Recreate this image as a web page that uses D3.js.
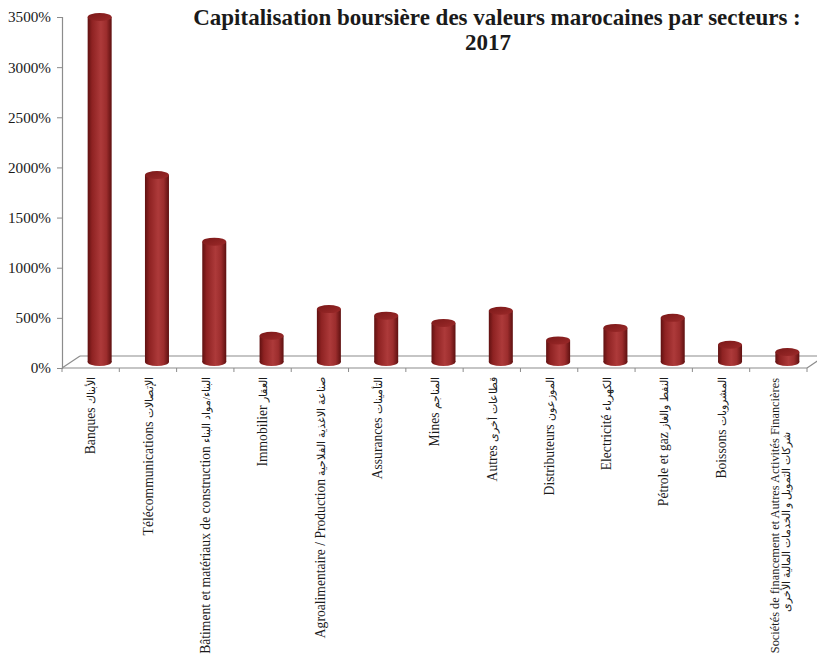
<!DOCTYPE html>
<html>
<head>
<meta charset="utf-8">
<script src="https://cdn.jsdelivr.net/npm/d3@7"></script>
<style>
  html, body { margin: 0; padding: 0; background: #ffffff; }
  svg { display: block; }
</style>
</head>
<body>
<svg id="chart" width="817" height="669"></svg>
<script>
// Sector labels (French + Arabic), one entry per column
const sectorsFr = [
  "Banques", "Télécommunications", "Bâtiment et matériaux de construction",
  "Immobilier", "Agroalimentaire / Production", "Assurances", "Mines",
  "Autres", "Distributeurs", "Electricité", "Pétrole et gaz", "Boissons",
  "Sociétés de financement et Autres Activités Financières"
];
const sectorsAr = [
  "الأبناك", "الإتصالات", "البناء/مواد البناء", "العقار",
  "صناعة الاغذية الفلاحية", "التأمينات", "المناجم", "قطاعات أخرى",
  "الموزعون", "الكهرباء", "النفط والغاز", "المشروبات",
  "شركات التمويل و الخدمات المالية الأخرى"
];
// Market capitalisation share per sector (%)
const capValues = [3440, 1865, 1200, 262, 528, 462, 390, 511, 215, 340, 440, 172, 100];
const yTicks = [0, 500, 1000, 1500, 2000, 2500, 3000, 3500];
const titleLines = ["Capitalisation boursière des valeurs marocaines par secteurs :", "2017"];

const svg = d3.select("#chart");
const serif = "'Liberation Serif', 'Times New Roman', serif";

// oblique 3D offset: back wall is shifted right/up from the front edge
const depthX = 18, depthY = -12;
const x0 = 62, x1 = 807, yBottom = 368, yTop = 17;

const x = d3.scaleBand().domain(d3.range(capValues.length)).range([x0, x1]).padding(0);
const y = d3.scaleLinear().domain([0, 3500]).range([yBottom, yTop]);

// gradient for the cylinder bodies
const defs = svg.append("defs");
const grad = defs.append("linearGradient").attr("id", "cyl").attr("x1", "0").attr("x2", "1").attr("y1", "0").attr("y2", "0");
[["0%", "#601111"], ["18%", "#8e2222"], ["55%", "#ad3a3a"], ["78%", "#9c2d2d"], ["100%", "#5e1010"]]
  .forEach(([o, c]) => grad.append("stop").attr("offset", o).attr("stop-color", c));
const gradTop = defs.append("linearGradient").attr("id", "cyltop").attr("x1", "0").attr("x2", "1").attr("y1", "0").attr("y2", "1");
[["0%", "#7a1818"], ["100%", "#9c2a2a"]]
  .forEach(([o, c]) => gradTop.append("stop").attr("offset", o).attr("stop-color", c));

// floor of the 3D plot area
const floor = svg.append("g").attr("stroke", "#8c8c8c").attr("stroke-width", 1.2).attr("fill", "none");
floor.append("line").attr("x1", x0 + depthX).attr("y1", y(0) + depthY).attr("x2", x1 + depthX).attr("y2", y(0) + depthY);
floor.append("line").attr("x1", x0).attr("y1", y(0)).attr("x2", x1).attr("y2", y(0));
floor.append("line").attr("x1", x0).attr("y1", y(0)).attr("x2", x0 + depthX).attr("y2", y(0) + depthY);
floor.append("line").attr("x1", x1).attr("y1", y(0)).attr("x2", x1 + depthX).attr("y2", y(0) + depthY);

// value axis on the front-left edge
const yAxis = svg.append("g")
  .attr("transform", `translate(${x0},0)`)
  .call(d3.axisLeft(y).tickValues(yTicks).tickSize(5).tickPadding(6).tickFormat(d => d + "%"));
yAxis.select(".domain").attr("stroke", "#8c8c8c").attr("stroke-width", 1.2);
yAxis.selectAll(".tick line").attr("stroke", "#8c8c8c");
yAxis.selectAll(".tick text").attr("font-family", serif).attr("font-size", 15.2).attr("fill", "#1a1a1a");

// category tick marks at band boundaries
svg.append("g").selectAll("line")
  .data(d3.range(capValues.length + 1))
  .join("line")
  .attr("x1", i => i < capValues.length ? x(i) : x1)
  .attr("x2", i => i < capValues.length ? x(i) : x1)
  .attr("y1", y(0)).attr("y2", y(0) + 4)
  .attr("stroke", "#8c8c8c");

// cylinders
const bw = 24, ry = 4;
const cx = i => x(i) + x.bandwidth() / 2 + depthX / 2;
const yMid = v => y(v) + depthY / 2;
const bars = svg.append("g").selectAll("g").data(capValues).join("g");
bars.append("ellipse")
  .attr("cx", (d, i) => cx(i)).attr("cy", yMid(0))
  .attr("rx", bw / 2).attr("ry", ry).attr("fill", "url(#cyl)");
bars.append("rect")
  .attr("x", (d, i) => cx(i) - bw / 2).attr("y", d => yMid(d))
  .attr("width", bw).attr("height", d => yMid(0) - yMid(d))
  .attr("fill", "url(#cyl)");
bars.append("ellipse")
  .attr("cx", (d, i) => cx(i)).attr("cy", d => yMid(d))
  .attr("rx", bw / 2).attr("ry", ry).attr("fill", "url(#cyltop)");

// rotated category labels
const labels = svg.append("g").attr("font-family", serif).attr("font-size", 13.6).attr("fill", "#1a1a1a");
capValues.forEach((v, i) => {
  const lx = x(i) + x.bandwidth() / 2;
  if (i === capValues.length - 1) {
    labels.append("text")
      .attr("transform", `translate(${lx - 4},378) rotate(-90)`)
      .attr("text-anchor", "end").attr("dy", "0.35em").attr("font-size", 12.4)
      .text(sectorsFr[i]);
    labels.append("text")
      .attr("transform", `translate(${lx + 8},522) rotate(-90)`)
      .attr("text-anchor", "middle").attr("dy", "0.35em").attr("direction", "rtl")
      .attr("font-size", 10.5)
      .text(sectorsAr[i]);
  } else {
    const t = labels.append("text")
      .attr("transform", `translate(${lx},377) rotate(-90)`)
      .attr("text-anchor", "end").attr("dy", "0.35em");
    t.append("tspan").text(sectorsFr[i] + "  ");
    t.append("tspan").attr("font-size", 11).text(sectorsAr[i]);
  }
});

// title on two lines
const title = svg.append("text")
  .attr("font-family", serif).attr("font-weight", "bold").attr("font-size", 23)
  .attr("text-anchor", "middle").attr("fill", "#1a1a1a");
title.selectAll("tspan").data(titleLines).join("tspan")
  .attr("x", (d, i) => i === 0 ? 497 : 488).attr("y", (d, i) => 25 + i * 25).text(d => d);
</script>
</body>
</html>
